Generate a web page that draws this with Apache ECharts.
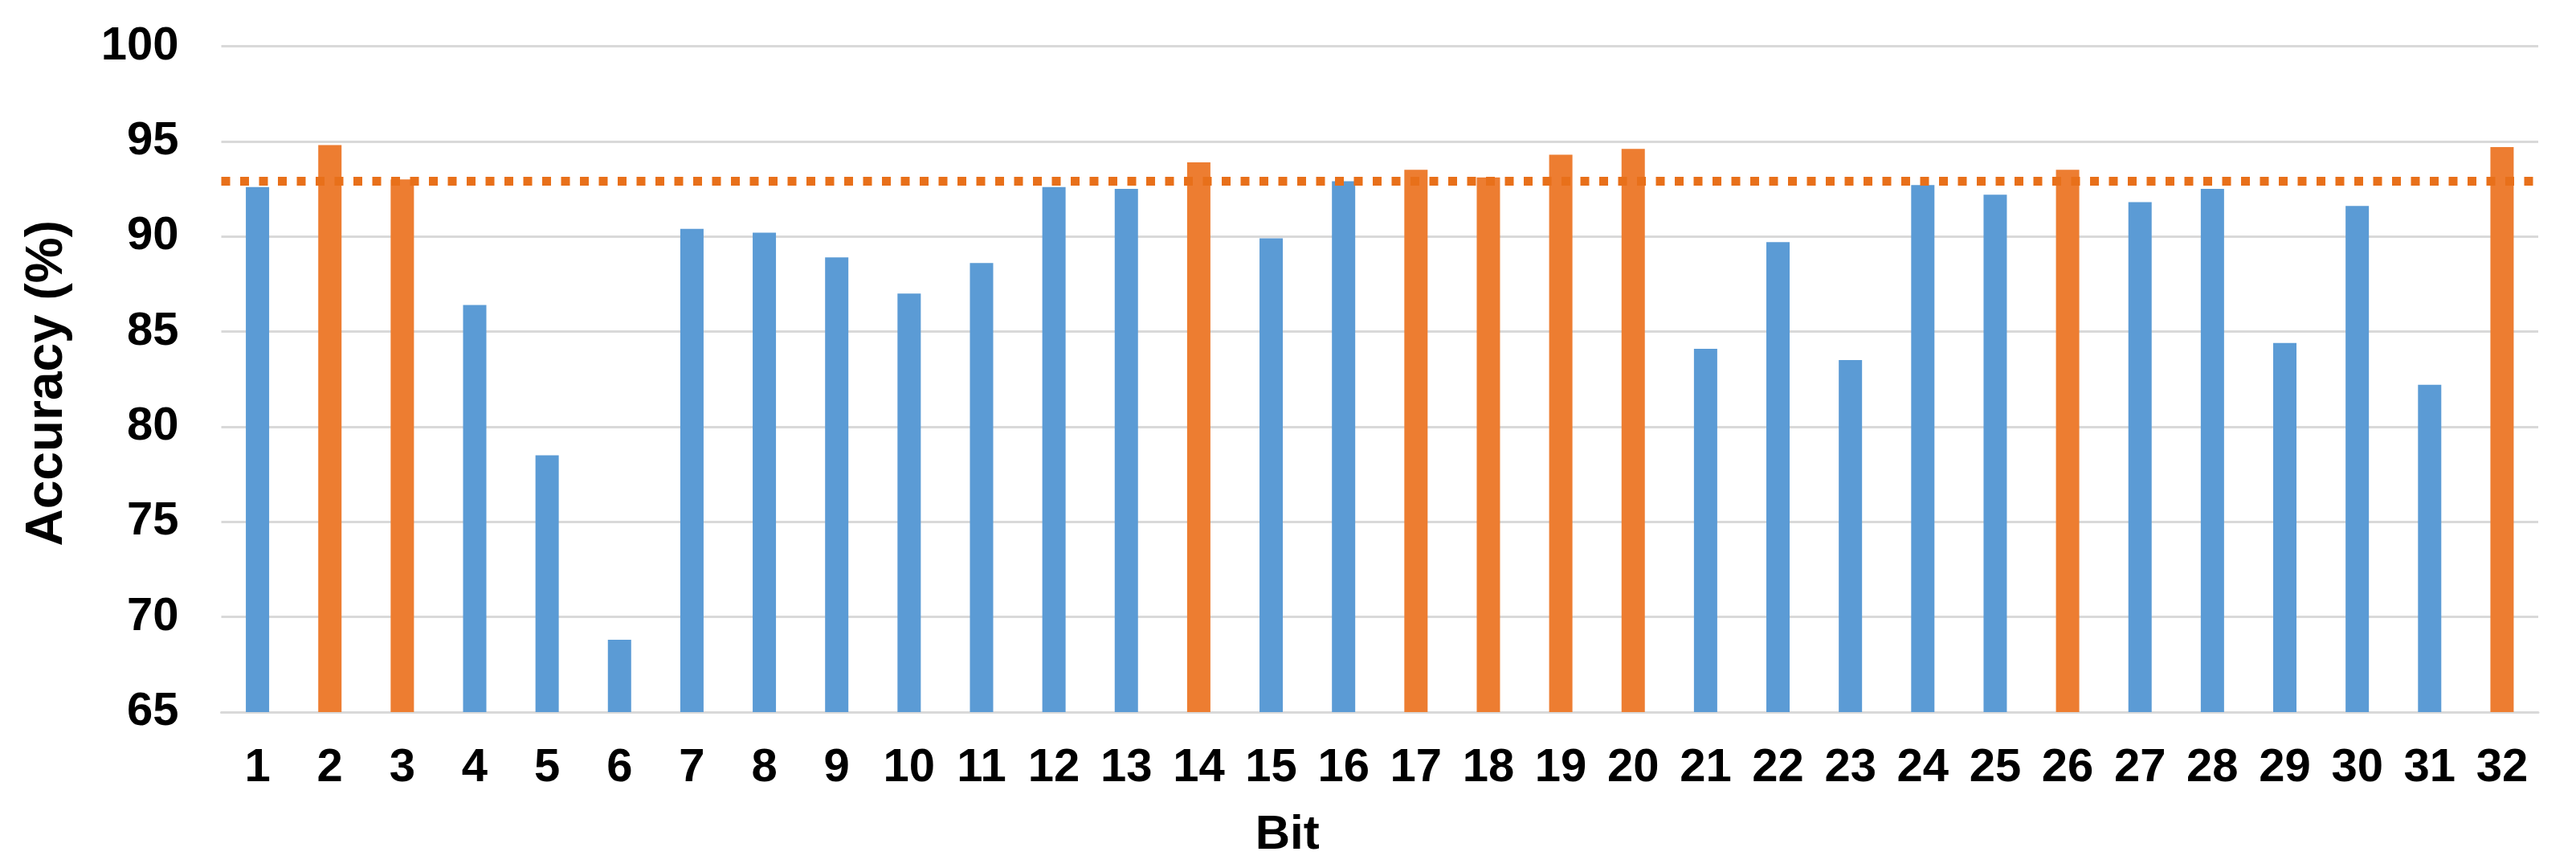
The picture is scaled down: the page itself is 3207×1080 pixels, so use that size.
<!DOCTYPE html>
<html>
<head>
<meta charset="utf-8">
<script src="https://cdn.jsdelivr.net/npm/echarts@6/dist/echarts.min.js"></script>
<style>
html,body{margin:0;padding:0;background:#fff;}
#chart{width:3207px;height:1080px;}
</style>
</head>
<body>
<div id="chart"></div>
<script>
// Data
const bits = ['1','2','3','4','5','6','7','8','9','10','11','12','13','14','15','16','17','18','19','20','21','22','23','24','25','26','27','28','29','30','31','32'];
const accuracy = [92.6,94.8,93.0,86.4,78.5,68.8,90.4,90.2,88.9,87.0,88.6,92.6,92.5,93.9,89.9,92.9,93.5,93.1,94.3,94.6,84.1,89.7,83.5,92.7,92.2,93.5,91.8,92.5,84.4,91.6,82.2,94.7];
const highlightedBits = ['2','3','14','17','18','19','20','26','32'];
const thresholdValue = 92.9;
const yTicks = [65,70,75,80,85,90,95,100];

const FONT = '"Liberation Sans", Arial, sans-serif';
const chart = echarts.init(document.getElementById('chart'), null, {renderer:'canvas'});
chart.setOption({
  animation: false,
  backgroundColor: '#ffffff',
  grid: {left: 275.5, right: 47, top: 57.5, bottom: 194},
  xAxis: {
    type: 'category',
    data: bits,
    name: 'Bit',
    nameLocation: 'middle',
    nameGap: 123,
    nameTextStyle: {fontFamily: FONT, fontWeight: 'bold', fontSize: 60, color: '#000', padding: [0, 230, 0, 0]},
    axisLine: {show: true, lineStyle: {color: '#D9D9D9', width: 3}},
    axisTick: {show: false},
    axisLabel: {fontFamily: FONT, fontWeight: 'bold', fontSize: 58, color: '#000', margin: 41, interval: 0}
  },
  yAxis: {
    type: 'value',
    min: yTicks[0],
    max: yTicks[yTicks.length-1],
    interval: 5,
    name: 'Accuracy (%)',
    nameLocation: 'middle',
    nameRotate: 90,
    nameGap: 184,
    nameTextStyle: {fontFamily: FONT, fontWeight: 'bold', fontSize: 64, color: '#000', padding: [0, 10, 0, 0]},
    axisLine: {show: false},
    axisTick: {show: false},
    axisLabel: {fontFamily: FONT, fontWeight: 'bold', fontSize: 58, color: '#000', margin: 53},
    splitLine: {show: true, lineStyle: {color: '#D9D9D9', width: 3}}
  },
  series: [{
    type: 'bar',
    data: accuracy,
    barWidth: 29,
    itemStyle: {
      color: function (p) { return highlightedBits.indexOf(bits[p.dataIndex]) >= 0 ? '#ED7D31' : '#5B9BD5'; }
    },
    markLine: {
      silent: true,
      symbol: ['none','none'],
      label: {show: false},
      lineStyle: {color: '#E8701A', width: 11, type: [11, 12.5], opacity: 1},
      data: [{yAxis: thresholdValue}]
    }
  }]
});
</script>
</body>
</html>
